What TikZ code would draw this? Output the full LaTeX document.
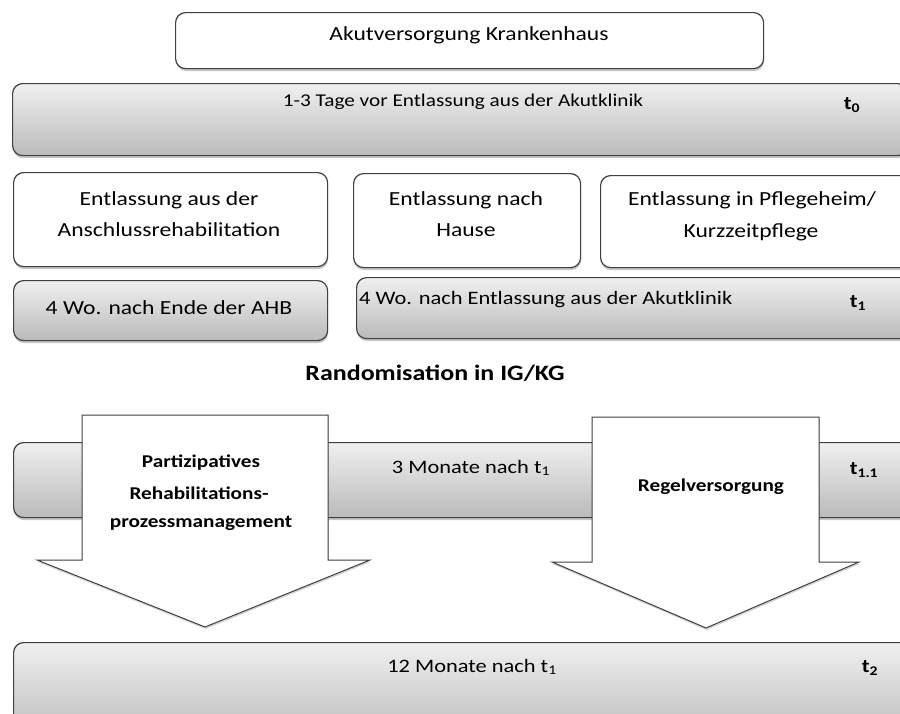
\documentclass[tikz,border=0pt]{standalone}
\usepackage{fontspec}
\setmainfont{Carlito}[FakeStretch=1.18]
\usetikzlibrary{shadows}
\tikzset{
  basebox/.style={draw=black!75, line width=1.2pt, rounded corners=10pt, anchor=north west, inner sep=0pt,
    drop shadow={shadow xshift=0.5pt, shadow yshift=-2.5pt, opacity=0.45}},
  whitebox/.style={basebox, fill=white},
  graybar/.style={basebox, top color=black!6, bottom color=black!27},
  bigarrow/.style={draw=black!75, line width=1pt, fill=white, line join=miter,
    drop shadow={shadow xshift=0.5pt, shadow yshift=-2pt, opacity=0.35}},
  txt/.style={inner sep=0pt, font=\fontsize{20}{24}\selectfont},
  bartxt/.style={inner sep=0pt, font=\fontsize{19}{23}\selectfont},
  boldtxt/.style={inner sep=0pt, font=\bfseries\fontsize{18}{22}\selectfont},
}
\begin{document}
\begin{tikzpicture}[x=1pt, y=-1pt]
\useasboundingbox (0,0) rectangle (900,713);
\clip (0,0) rectangle (900,713);
% top box
\node[whitebox, minimum width=588pt, minimum height=56pt] (top) at (175,12) {};
\node[txt] (toptxt) at (469,35) {Akutversorgung Krankenhaus};
% bar t0
\node[graybar, minimum width=895pt, minimum height=72pt] (bar0) at (12,83) {};
\node[bartxt, font=\fontsize{18}{22}\selectfont] (bar0txt) at (463,102) {1-3 Tage vor Entlassung aus der Akutklinik};
\node[bartxt] (t0) at (852,105) {\textbf{t\textsubscript{0}}};
% three boxes
\node[whitebox, minimum width=314pt, minimum height=94pt] (box1) at (13,172) {};
\node[txt] (box1a) at (169,200) {Entlassung aus der};
\node[txt] (box1b) at (169,230) {Anschlussrehabilitation};
\node[whitebox, minimum width=227pt, minimum height=94pt] (box2) at (353,173) {};
\node[txt] (box2a) at (466,200) {Entlassung nach};
\node[txt] (box2b) at (466,230) {Hause};
\node[whitebox, minimum width=310pt, minimum height=92pt] (box3) at (600,175) {};
\node[txt] (box3a) at (752,200) {Entlassung in Pflegeheim/};
\node[txt] (box3b) at (751,232) {Kurzzeitpflege};
% t1 row
\node[graybar, minimum width=314pt, minimum height=60pt] (low1) at (13,280) {};
\node[txt] (low1txt) at (169,308) {4 Wo. nach Ende der AHB};
\node[graybar, minimum width=554pt, minimum height=61pt] (low2) at (356,277) {};
\node[bartxt, anchor=west] (low2txt) at (359,300) {4 Wo. nach Entlassung aus der Akutklinik};
\node[bartxt] (t1) at (858,303) {\textbf{t\textsubscript{1}}};
% randomisation
\node[inner sep=0pt, font=\bfseries\fontsize{22}{26}\selectfont] (rand) at (435,373) {Randomisation in IG/KG};
% bar t1.1
\node[graybar, minimum width=897pt, minimum height=75pt] (bar1) at (13,442) {};
\node[bartxt] (bar1txt) at (471,468) {3 Monate nach t\textsubscript{1}};
\node[bartxt] (t11) at (864,470) {\textbf{t\textsubscript{1.1}}};
% arrows
\draw[bigarrow] (82,415) -- (328,415) -- (328,560) -- (370,560) -- (205,627) -- (37,560) -- (82,560) -- cycle;
\draw[bigarrow] (592,417) -- (819,417) -- (819,562) -- (859,562) -- (706,628) -- (552,562) -- (592,562) -- cycle;
\node[boldtxt] (pa) at (201,463) {Partizipatives};
\node[boldtxt] (pb) at (199,493) {Rehabilitations-};
\node[boldtxt] (pc) at (201,523) {prozessmanagement};
\node[boldtxt] (rv) at (711,487) {Regelversorgung};
% bar t2
\node[graybar, minimum width=897pt, minimum height=100pt] (bar2) at (13,642) {};
\node[bartxt] (bar2txt) at (472,667) {12 Monate nach t\textsubscript{1}};
\node[bartxt] (t2) at (870,668) {\textbf{t\textsubscript{2}}};
\end{tikzpicture}
\end{document}
